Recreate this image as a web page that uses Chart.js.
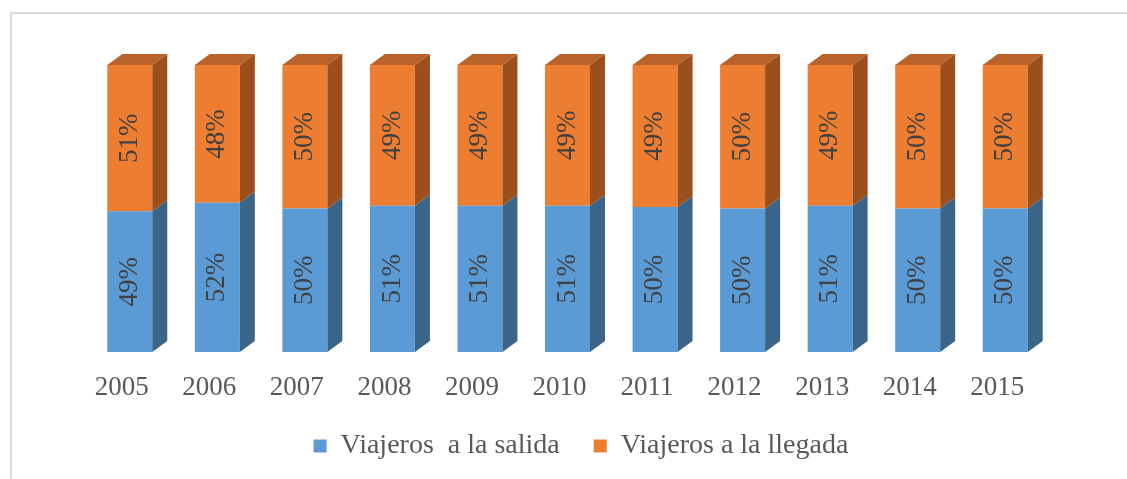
<!DOCTYPE html>
<html>
<head>
<meta charset="utf-8">
<script src="https://cdn.jsdelivr.net/npm/chart.js@4.4.0/dist/chart.umd.min.js"></script>
<style>
  html, body { margin: 0; padding: 0; background: #fff; }
  #wrap { width: 1127px; height: 479px; position: relative; }
</style>
</head>
<body>
<div id="wrap"><canvas id="myChart"></canvas></div>
<script>
// data
const years = ['2005', '2006', '2007', '2008', '2009', '2010', '2011', '2012', '2013', '2014', '2015'];
const salida = [49, 52, 50, 51, 51, 51, 50, 50, 51, 50, 50];
const llegada = [51, 48, 50, 49, 49, 49, 49, 50, 49, 50, 50];

// 100% stacked: share of each year's total
const share = (arr, i) => arr[i] / (salida[i] + llegada[i]) * 100;

const serif = "'Liberation Serif', 'Times New Roman', serif";
const depthX = 15, depthY = 11;

const sideColors = ['#3b6588', '#9b4f1d'];
const topColor = '#b9622a';

const frame = {
    id: 'frame',
    beforeDraw(chart) {
        const ctx = chart.ctx;
        ctx.save();
        ctx.strokeStyle = '#d9d9d9';
        ctx.lineWidth = 2;
        ctx.strokeRect(11, 13, 1300, 700);
        ctx.restore();
    }
};

// fake 3d faces + rotated value labels
const box3d = {
    id: 'box3d',
    afterDatasetsDraw(chart) {
        const ctx = chart.ctx;
        const metas = [chart.getDatasetMeta(0), chart.getDatasetMeta(1)];
        ctx.save();
        metas.forEach((meta, d) => {
            meta.data.forEach((bar) => {
                const half = bar.width / 2;
                const r = bar.x + half;
                const yTop = Math.min(bar.y, bar.base);
                const yBot = Math.max(bar.y, bar.base);
                ctx.fillStyle = sideColors[d];
                ctx.beginPath();
                ctx.moveTo(r, yBot);
                ctx.lineTo(r + depthX, yBot - depthY);
                ctx.lineTo(r + depthX, yTop - depthY);
                ctx.lineTo(r, yTop);
                ctx.closePath();
                ctx.fill();
                if (d === 1) {
                    const l = bar.x - half;
                    ctx.fillStyle = topColor;
                    ctx.beginPath();
                    ctx.moveTo(l, yTop);
                    ctx.lineTo(l + depthX, yTop - depthY);
                    ctx.lineTo(r + depthX, yTop - depthY);
                    ctx.lineTo(r, yTop);
                    ctx.closePath();
                    ctx.fill();
                }
            });
        });
        const values = [salida, llegada];
        ctx.fillStyle = '#404040';
        ctx.font = '27px ' + serif;
        ctx.textAlign = 'center';
        ctx.textBaseline = 'middle';
        metas.forEach((meta, d) => {
            meta.data.forEach((bar, i) => {
                ctx.save();
                ctx.translate(bar.x, (bar.y + bar.base) / 2);
                ctx.rotate(-Math.PI / 2);
                ctx.fillText(values[d][i] + '%', 0, 0);
                ctx.restore();
            });
        });
        ctx.restore();
    }
};

const data = {
    labels: years,
    datasets: [
        {
            label: 'Viajeros  a la salida',
            data: years.map((y, i) => share(salida, i)),
            backgroundColor: '#5b9bd5',
            borderWidth: 0
        },
        {
            label: 'Viajeros a la llegada',
            data: years.map((y, i) => share(llegada, i)),
            backgroundColor: '#ed7d31',
            borderWidth: 0
        }
    ]
};

const config = {
    type: 'bar',
    data: data,
    options: {
        responsive: true,
        maintainAspectRatio: false,
        animation: false,
        categoryPercentage: 0.514,
        barPercentage: 1,
        layout: {
            padding: { top: 65, left: 35, right: 0, bottom: 9 }
        },
        plugins: {
            tooltip: { enabled: false },
            legend: {
                position: 'bottom',
                labels: {
                    boxWidth: 13,
                    boxHeight: 13,
                    padding: 34,
                    color: '#595959',
                    font: { family: serif, size: 28 }
                }
            }
        },
        scales: {
            x: {
                stacked: true,
                grid: { display: false, drawTicks: false },
                border: { display: false },
                ticks: {
                    color: '#595959',
                    padding: 20,
                    labelOffset: -8,
                    font: { family: serif, size: 27 }
                },
                afterFit: (axis) => { axis.height = 46; }
            },
            y: {
                stacked: true,
                min: 0,
                max: 100,
                grid: { display: false },
                border: { display: false },
                ticks: { display: false },
                afterFit: (axis) => { axis.width = 51; }
            },
            y2: {
                position: 'right',
                min: 0,
                max: 100,
                grid: { display: false },
                border: { display: false },
                ticks: { display: false },
                afterFit: (axis) => { axis.width = 78; }
            }
        }
    },
    plugins: [frame, box3d]
};

let myChart = new Chart(document.getElementById('myChart'), config);
</script>
</body>
</html>
